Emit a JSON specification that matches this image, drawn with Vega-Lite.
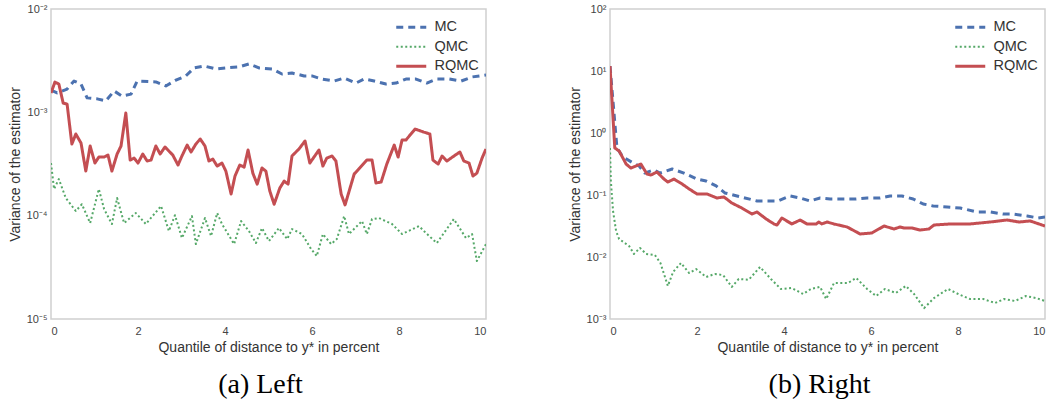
{
"$schema": "https://vega.github.io/schema/vega-lite/v6.json",
"background": "white",
"padding": {"left": 7, "top": 2, "right": 2, "bottom": 5},
"spacing": 80,
"config": {
  "font": "Liberation Sans",
  "view": {"stroke": "#d0d0d0", "strokeWidth": 1.5},
  "axis": {"domain": false, "ticks": false, "grid": false, "labelFont": "Liberation Sans", "labelFontSize": 11, "labelColor": "#444444", "titleFont": "Liberation Sans", "titleFontSize": 14, "titleFontWeight": "normal", "titleColor": "#333333"},
  "legend": {"orient": "none", "legendX": 353, "legendY": 11, "title": null, "labelFont": "Liberation Sans", "labelFontSize": 14.5, "labelColor": "#333333", "symbolType": "M-3,0H3", "symbolSize": 100, "labelOffset": 16, "rowPadding": 4.5},
  "title": {"font": "Liberation Serif", "fontSize": 28, "fontWeight": "normal", "color": "#000000", "orient": "bottom", "offset": 17, "dx": -8}
},
"datasets": {
  "left": [
    {"x":0,"v":1.64e-3,"s":"MC"},{"x":0.14,"v":1.54e-3,"s":"MC"},{"x":0.37,"v":1.68e-3,"s":"MC"},{"x":0.53,"v":2.01e-3,"s":"MC"},{"x":0.69,"v":1.88e-3,"s":"MC"},{"x":0.83,"v":1.38e-3,"s":"MC"},{"x":1.06,"v":1.35e-3,"s":"MC"},{"x":1.26,"v":1.29e-3,"s":"MC"},{"x":1.45,"v":1.61e-3,"s":"MC"},{"x":1.63,"v":1.44e-3,"s":"MC"},{"x":1.84,"v":1.50e-3,"s":"MC"},{"x":1.98,"v":2.01e-3,"s":"MC"},{"x":2.41,"v":1.97e-3,"s":"MC"},{"x":2.64,"v":1.80e-3,"s":"MC"},{"x":2.87,"v":2.05e-3,"s":"MC"},{"x":3.10,"v":2.25e-3,"s":"MC"},{"x":3.29,"v":2.69e-3,"s":"MC"},{"x":3.52,"v":2.81e-3,"s":"MC"},{"x":3.79,"v":2.63e-3,"s":"MC"},{"x":4.02,"v":2.69e-3,"s":"MC"},{"x":4.32,"v":2.75e-3,"s":"MC"},{"x":4.55,"v":2.94e-3,"s":"MC"},{"x":4.78,"v":2.69e-3,"s":"MC"},{"x":5.08,"v":2.63e-3,"s":"MC"},{"x":5.31,"v":2.35e-3,"s":"MC"},{"x":5.54,"v":2.40e-3,"s":"MC"},{"x":5.82,"v":2.25e-3,"s":"MC"},{"x":6.00,"v":2.25e-3,"s":"MC"},{"x":6.23,"v":2.10e-3,"s":"MC"},{"x":6.51,"v":2.01e-3,"s":"MC"},{"x":6.74,"v":2.15e-3,"s":"MC"},{"x":7.01,"v":1.92e-3,"s":"MC"},{"x":7.20,"v":2.10e-3,"s":"MC"},{"x":7.43,"v":2.01e-3,"s":"MC"},{"x":7.70,"v":1.88e-3,"s":"MC"},{"x":7.93,"v":1.92e-3,"s":"MC"},{"x":8.16,"v":2.10e-3,"s":"MC"},{"x":8.39,"v":2.10e-3,"s":"MC"},{"x":8.64,"v":1.92e-3,"s":"MC"},{"x":8.87,"v":2.10e-3,"s":"MC"},{"x":9.15,"v":2.10e-3,"s":"MC"},{"x":9.43,"v":2.01e-3,"s":"MC"},{"x":9.68,"v":2.20e-3,"s":"MC"},{"x":10,"v":2.30e-3,"s":"MC"},

    {"x":0,"v":3.23e-4,"s":"QMC"},{"x":0.07,"v":1.81e-4,"s":"QMC"},{"x":0.18,"v":2.26e-4,"s":"QMC"},{"x":0.34,"v":1.48e-4,"s":"QMC"},{"x":0.57,"v":1.11e-4,"s":"QMC"},{"x":0.71,"v":1.29e-4,"s":"QMC"},{"x":0.90,"v":8.48e-5,"s":"QMC"},{"x":1.10,"v":1.81e-4,"s":"QMC"},{"x":1.22,"v":1.16e-4,"s":"QMC"},{"x":1.40,"v":8.30e-5,"s":"QMC"},{"x":1.52,"v":1.48e-4,"s":"QMC"},{"x":1.68,"v":8.48e-5,"s":"QMC"},{"x":1.95,"v":1.06e-4,"s":"QMC"},{"x":2.18,"v":8.30e-5,"s":"QMC"},{"x":2.53,"v":1.24e-4,"s":"QMC"},{"x":2.71,"v":7.10e-5,"s":"QMC"},{"x":2.85,"v":1.01e-4,"s":"QMC"},{"x":3.01,"v":6.07e-5,"s":"QMC"},{"x":3.24,"v":9.91e-5,"s":"QMC"},{"x":3.33,"v":5.31e-5,"s":"QMC"},{"x":3.54,"v":9.48e-5,"s":"QMC"},{"x":3.68,"v":6.35e-5,"s":"QMC"},{"x":3.82,"v":1.06e-4,"s":"QMC"},{"x":3.93,"v":8.30e-5,"s":"QMC"},{"x":4.21,"v":5.31e-5,"s":"QMC"},{"x":4.37,"v":8.87e-5,"s":"QMC"},{"x":4.55,"v":7.10e-5,"s":"QMC"},{"x":4.71,"v":5.43e-5,"s":"QMC"},{"x":4.85,"v":7.59e-5,"s":"QMC"},{"x":5.01,"v":5.68e-5,"s":"QMC"},{"x":5.24,"v":7.59e-5,"s":"QMC"},{"x":5.43,"v":5.93e-5,"s":"QMC"},{"x":5.54,"v":7.42e-5,"s":"QMC"},{"x":5.77,"v":6.64e-5,"s":"QMC"},{"x":5.98,"v":4.75e-5,"s":"QMC"},{"x":6.11,"v":4.06e-5,"s":"QMC"},{"x":6.25,"v":6.64e-5,"s":"QMC"},{"x":6.44,"v":5.31e-5,"s":"QMC"},{"x":6.57,"v":5.93e-5,"s":"QMC"},{"x":6.74,"v":9.91e-5,"s":"QMC"},{"x":6.85,"v":6.64e-5,"s":"QMC"},{"x":7.15,"v":8.87e-5,"s":"QMC"},{"x":7.26,"v":6.64e-5,"s":"QMC"},{"x":7.38,"v":9.27e-5,"s":"QMC"},{"x":7.54,"v":9.48e-5,"s":"QMC"},{"x":7.84,"v":8.30e-5,"s":"QMC"},{"x":8.07,"v":6.64e-5,"s":"QMC"},{"x":8.46,"v":7.93e-5,"s":"QMC"},{"x":8.62,"v":6.79e-5,"s":"QMC"},{"x":8.87,"v":5.43e-5,"s":"QMC"},{"x":9.26,"v":9.27e-5,"s":"QMC"},{"x":9.54,"v":6.07e-5,"s":"QMC"},{"x":9.68,"v":6.64e-5,"s":"QMC"},{"x":9.79,"v":3.64e-5,"s":"QMC"},{"x":10,"v":5.31e-5,"s":"QMC"},

    {"x":0,"v":1.54e-3,"s":"RQMC"},{"x":0.09,"v":1.96e-3,"s":"RQMC"},{"x":0.18,"v":1.88e-3,"s":"RQMC"},{"x":0.28,"v":1.23e-3,"s":"RQMC"},{"x":0.37,"v":1.20e-3,"s":"RQMC"},{"x":0.48,"v":4.93e-4,"s":"RQMC"},{"x":0.57,"v":6.17e-4,"s":"RQMC"},{"x":0.69,"v":5.05e-4,"s":"RQMC"},{"x":0.80,"v":2.70e-4,"s":"RQMC"},{"x":0.90,"v":4.72e-4,"s":"RQMC"},{"x":1.01,"v":3.23e-4,"s":"RQMC"},{"x":1.10,"v":3.69e-4,"s":"RQMC"},{"x":1.22,"v":3.69e-4,"s":"RQMC"},{"x":1.31,"v":3.86e-4,"s":"RQMC"},{"x":1.40,"v":2.70e-4,"s":"RQMC"},{"x":1.52,"v":3.95e-4,"s":"RQMC"},{"x":1.61,"v":4.72e-4,"s":"RQMC"},{"x":1.72,"v":9.84e-4,"s":"RQMC"},{"x":1.82,"v":3.45e-4,"s":"RQMC"},{"x":1.91,"v":3.61e-4,"s":"RQMC"},{"x":2.00,"v":3.23e-4,"s":"RQMC"},{"x":2.11,"v":3.95e-4,"s":"RQMC"},{"x":2.21,"v":3.38e-4,"s":"RQMC"},{"x":2.30,"v":3.45e-4,"s":"RQMC"},{"x":2.41,"v":4.72e-4,"s":"RQMC"},{"x":2.51,"v":3.95e-4,"s":"RQMC"},{"x":2.62,"v":4.62e-4,"s":"RQMC"},{"x":2.71,"v":4.22e-4,"s":"RQMC"},{"x":2.80,"v":3.86e-4,"s":"RQMC"},{"x":2.92,"v":3.09e-4,"s":"RQMC"},{"x":3.01,"v":3.78e-4,"s":"RQMC"},{"x":3.13,"v":4.82e-4,"s":"RQMC"},{"x":3.22,"v":4.13e-4,"s":"RQMC"},{"x":3.33,"v":4.93e-4,"s":"RQMC"},{"x":3.43,"v":5.52e-4,"s":"RQMC"},{"x":3.54,"v":4.72e-4,"s":"RQMC"},{"x":3.63,"v":3.38e-4,"s":"RQMC"},{"x":3.72,"v":3.53e-4,"s":"RQMC"},{"x":3.82,"v":3.02e-4,"s":"RQMC"},{"x":3.93,"v":3.23e-4,"s":"RQMC"},{"x":4.02,"v":2.70e-4,"s":"RQMC"},{"x":4.14,"v":1.62e-4,"s":"RQMC"},{"x":4.23,"v":2.42e-4,"s":"RQMC"},{"x":4.34,"v":3.09e-4,"s":"RQMC"},{"x":4.44,"v":2.95e-4,"s":"RQMC"},{"x":4.53,"v":4.32e-4,"s":"RQMC"},{"x":4.64,"v":2.58e-4,"s":"RQMC"},{"x":4.74,"v":2.02e-4,"s":"RQMC"},{"x":4.85,"v":2.89e-4,"s":"RQMC"},{"x":4.94,"v":2.70e-4,"s":"RQMC"},{"x":5.03,"v":1.73e-4,"s":"RQMC"},{"x":5.13,"v":1.29e-4,"s":"RQMC"},{"x":5.26,"v":1.85e-4,"s":"RQMC"},{"x":5.36,"v":2.16e-4,"s":"RQMC"},{"x":5.45,"v":2.02e-4,"s":"RQMC"},{"x":5.54,"v":3.78e-4,"s":"RQMC"},{"x":5.70,"v":4.42e-4,"s":"RQMC"},{"x":5.84,"v":5.28e-4,"s":"RQMC"},{"x":5.95,"v":3.23e-4,"s":"RQMC"},{"x":6.16,"v":4.32e-4,"s":"RQMC"},{"x":6.25,"v":3.02e-4,"s":"RQMC"},{"x":6.34,"v":3.61e-4,"s":"RQMC"},{"x":6.46,"v":3.78e-4,"s":"RQMC"},{"x":6.55,"v":3.38e-4,"s":"RQMC"},{"x":6.67,"v":1.62e-4,"s":"RQMC"},{"x":6.76,"v":1.27e-4,"s":"RQMC"},{"x":6.97,"v":2.53e-4,"s":"RQMC"},{"x":7.26,"v":3.45e-4,"s":"RQMC"},{"x":7.38,"v":3.45e-4,"s":"RQMC"},{"x":7.47,"v":2.07e-4,"s":"RQMC"},{"x":7.59,"v":2.12e-4,"s":"RQMC"},{"x":7.72,"v":3.16e-4,"s":"RQMC"},{"x":7.89,"v":4.82e-4,"s":"RQMC"},{"x":7.98,"v":3.69e-4,"s":"RQMC"},{"x":8.07,"v":5.40e-4,"s":"RQMC"},{"x":8.16,"v":5.40e-4,"s":"RQMC"},{"x":8.37,"v":6.89e-4,"s":"RQMC"},{"x":8.57,"v":6.44e-4,"s":"RQMC"},{"x":8.71,"v":6.17e-4,"s":"RQMC"},{"x":8.78,"v":3.45e-4,"s":"RQMC"},{"x":8.90,"v":3.16e-4,"s":"RQMC"},{"x":8.99,"v":3.78e-4,"s":"RQMC"},{"x":9.10,"v":3.38e-4,"s":"RQMC"},{"x":9.33,"v":3.95e-4,"s":"RQMC"},{"x":9.40,"v":4.13e-4,"s":"RQMC"},{"x":9.49,"v":3.38e-4,"s":"RQMC"},{"x":9.61,"v":3.23e-4,"s":"RQMC"},{"x":9.70,"v":2.42e-4,"s":"RQMC"},{"x":9.79,"v":2.58e-4,"s":"RQMC"},{"x":9.91,"v":3.61e-4,"s":"RQMC"},{"x":10,"v":4.42e-4,"s":"RQMC"}
  ],
  "right": [
    {"x":0,"v":12.0,"s":"MC"},{"x":0.16,"v":0.573,"s":"MC"},{"x":0.28,"v":0.426,"s":"MC"},{"x":0.34,"v":0.395,"s":"MC"},{"x":0.57,"v":0.316,"s":"MC"},{"x":0.67,"v":0.294,"s":"MC"},{"x":0.80,"v":0.226,"s":"MC"},{"x":1.01,"v":0.254,"s":"MC"},{"x":1.15,"v":0.226,"s":"MC"},{"x":1.43,"v":0.263,"s":"MC"},{"x":1.70,"v":0.226,"s":"MC"},{"x":2.00,"v":0.181,"s":"MC"},{"x":2.21,"v":0.168,"s":"MC"},{"x":2.44,"v":0.140,"s":"MC"},{"x":2.64,"v":0.108,"s":"MC"},{"x":2.92,"v":0.0964,"s":"MC"},{"x":3.38,"v":0.0800,"s":"MC"},{"x":3.86,"v":0.0800,"s":"MC"},{"x":4.14,"v":0.0964,"s":"MC"},{"x":4.37,"v":0.0895,"s":"MC"},{"x":4.60,"v":0.0800,"s":"MC"},{"x":4.83,"v":0.0895,"s":"MC"},{"x":5.06,"v":0.0861,"s":"MC"},{"x":5.36,"v":0.0861,"s":"MC"},{"x":5.66,"v":0.0861,"s":"MC"},{"x":5.91,"v":0.0895,"s":"MC"},{"x":6.21,"v":0.0895,"s":"MC"},{"x":6.44,"v":0.0964,"s":"MC"},{"x":6.71,"v":0.0964,"s":"MC"},{"x":6.97,"v":0.0861,"s":"MC"},{"x":7.20,"v":0.0716,"s":"MC"},{"x":7.43,"v":0.0665,"s":"MC"},{"x":7.75,"v":0.0640,"s":"MC"},{"x":8.05,"v":0.0617,"s":"MC"},{"x":8.44,"v":0.0532,"s":"MC"},{"x":8.74,"v":0.0532,"s":"MC"},{"x":9.03,"v":0.0494,"s":"MC"},{"x":9.26,"v":0.0494,"s":"MC"},{"x":9.59,"v":0.0459,"s":"MC"},{"x":9.84,"v":0.0426,"s":"MC"},{"x":10,"v":0.0440,"s":"MC"},

    {"x":0,"v":0.573,"s":"QMC"},{"x":0.02,"v":0.168,"s":"QMC"},{"x":0.07,"v":0.0552,"s":"QMC"},{"x":0.14,"v":0.0262,"s":"QMC"},{"x":0.21,"v":0.0195,"s":"QMC"},{"x":0.44,"v":0.0150,"s":"QMC"},{"x":0.55,"v":0.0112,"s":"QMC"},{"x":0.69,"v":0.0140,"s":"QMC"},{"x":0.83,"v":0.0112,"s":"QMC"},{"x":1.03,"v":0.0108,"s":"QMC"},{"x":1.16,"v":0.0080,"s":"QMC"},{"x":1.33,"v":0.00341,"s":"QMC"},{"x":1.45,"v":0.00573,"s":"QMC"},{"x":1.63,"v":0.0080,"s":"QMC"},{"x":1.82,"v":0.00552,"s":"QMC"},{"x":1.98,"v":0.00640,"s":"QMC"},{"x":2.21,"v":0.00476,"s":"QMC"},{"x":2.41,"v":0.00532,"s":"QMC"},{"x":2.60,"v":0.0051,"s":"QMC"},{"x":2.80,"v":0.0033,"s":"QMC"},{"x":2.96,"v":0.00442,"s":"QMC"},{"x":3.19,"v":0.0043,"s":"QMC"},{"x":3.45,"v":0.0069,"s":"QMC"},{"x":3.70,"v":0.00442,"s":"QMC"},{"x":3.93,"v":0.00305,"s":"QMC"},{"x":4.18,"v":0.00316,"s":"QMC"},{"x":4.44,"v":0.00253,"s":"QMC"},{"x":4.62,"v":0.00305,"s":"QMC"},{"x":4.83,"v":0.0033,"s":"QMC"},{"x":4.97,"v":0.00210,"s":"QMC"},{"x":5.15,"v":0.00381,"s":"QMC"},{"x":5.47,"v":0.00381,"s":"QMC"},{"x":5.66,"v":0.00459,"s":"QMC"},{"x":5.91,"v":0.00305,"s":"QMC"},{"x":6.12,"v":0.00235,"s":"QMC"},{"x":6.32,"v":0.00305,"s":"QMC"},{"x":6.57,"v":0.00263,"s":"QMC"},{"x":6.80,"v":0.00341,"s":"QMC"},{"x":6.99,"v":0.00253,"s":"QMC"},{"x":7.22,"v":0.0015,"s":"QMC"},{"x":7.45,"v":0.00218,"s":"QMC"},{"x":7.77,"v":0.00305,"s":"QMC"},{"x":8.05,"v":0.00244,"s":"QMC"},{"x":8.28,"v":0.00210,"s":"QMC"},{"x":8.58,"v":0.00210,"s":"QMC"},{"x":8.85,"v":0.00181,"s":"QMC"},{"x":9.06,"v":0.00210,"s":"QMC"},{"x":9.31,"v":0.00195,"s":"QMC"},{"x":9.56,"v":0.00235,"s":"QMC"},{"x":9.79,"v":0.00218,"s":"QMC"},{"x":10,"v":0.00195,"s":"QMC"},

    {"x":0,"v":12.0,"s":"RQMC"},{"x":0.11,"v":0.573,"s":"RQMC"},{"x":0.21,"v":0.513,"s":"RQMC"},{"x":0.37,"v":0.316,"s":"RQMC"},{"x":0.48,"v":0.272,"s":"RQMC"},{"x":0.60,"v":0.294,"s":"RQMC"},{"x":0.71,"v":0.316,"s":"RQMC"},{"x":0.85,"v":0.218,"s":"RQMC"},{"x":0.94,"v":0.210,"s":"RQMC"},{"x":1.08,"v":0.235,"s":"RQMC"},{"x":1.24,"v":0.181,"s":"RQMC"},{"x":1.33,"v":0.162,"s":"RQMC"},{"x":1.47,"v":0.181,"s":"RQMC"},{"x":1.66,"v":0.150,"s":"RQMC"},{"x":1.82,"v":0.125,"s":"RQMC"},{"x":2.00,"v":0.104,"s":"RQMC"},{"x":2.23,"v":0.104,"s":"RQMC"},{"x":2.46,"v":0.0895,"s":"RQMC"},{"x":2.62,"v":0.0929,"s":"RQMC"},{"x":2.80,"v":0.0743,"s":"RQMC"},{"x":3.03,"v":0.0617,"s":"RQMC"},{"x":3.26,"v":0.0494,"s":"RQMC"},{"x":3.38,"v":0.0532,"s":"RQMC"},{"x":3.59,"v":0.0410,"s":"RQMC"},{"x":3.77,"v":0.0341,"s":"RQMC"},{"x":3.84,"v":0.0328,"s":"RQMC"},{"x":3.95,"v":0.0426,"s":"RQMC"},{"x":4.18,"v":0.0341,"s":"RQMC"},{"x":4.37,"v":0.0395,"s":"RQMC"},{"x":4.53,"v":0.0341,"s":"RQMC"},{"x":4.74,"v":0.0341,"s":"RQMC"},{"x":4.80,"v":0.0367,"s":"RQMC"},{"x":4.87,"v":0.0341,"s":"RQMC"},{"x":4.99,"v":0.0367,"s":"RQMC"},{"x":5.15,"v":0.0341,"s":"RQMC"},{"x":5.45,"v":0.0305,"s":"RQMC"},{"x":5.75,"v":0.0235,"s":"RQMC"},{"x":6.02,"v":0.0244,"s":"RQMC"},{"x":6.30,"v":0.0316,"s":"RQMC"},{"x":6.53,"v":0.0283,"s":"RQMC"},{"x":6.67,"v":0.0305,"s":"RQMC"},{"x":6.76,"v":0.0294,"s":"RQMC"},{"x":6.94,"v":0.0294,"s":"RQMC"},{"x":7.13,"v":0.0272,"s":"RQMC"},{"x":7.33,"v":0.0283,"s":"RQMC"},{"x":7.45,"v":0.0328,"s":"RQMC"},{"x":7.82,"v":0.0341,"s":"RQMC"},{"x":8.28,"v":0.0341,"s":"RQMC"},{"x":8.74,"v":0.0367,"s":"RQMC"},{"x":9.13,"v":0.0395,"s":"RQMC"},{"x":9.40,"v":0.0367,"s":"RQMC"},{"x":9.66,"v":0.0381,"s":"RQMC"},{"x":10,"v":0.0316,"s":"RQMC"}
  ]
},
"hconcat": [
  {
    "title": {"text": "(a) Left"},
    "width": 435, "height": 310,
    "data": {"name": "left"},
    "mark": {"type": "line", "strokeCap": "butt", "strokeJoin": "round", "clip": true},
    "encoding": {
      "x": {"field": "x", "type": "quantitative", "scale": {"domain": [0, 10], "nice": false}, "axis": {"values": [0, 2, 4, 6, 8, 10], "format": "d", "title": "Quantile of distance to y* in percent", "labelPadding": 6, "titlePadding": 4}},
      "y": {"field": "v", "type": "quantitative", "scale": {"type": "log", "domain": [1e-5, 1e-2], "nice": false}, "axis": {"values": [1e-5, 1e-4, 1e-3, 1e-2], "labelPadding": 4, "titlePadding": 4, "title": "Variance of the estimator", "labelExpr": "'10' + (datum.value < 1 ? '⁻' : '') + substring('⁰¹²³⁴⁵⁶⁷⁸⁹', abs(round(log(datum.value)/LN10)), abs(round(log(datum.value)/LN10)) + 1)"}},
      "color": {"field": "s", "type": "ordinal", "scale": {"domain": ["MC", "QMC", "RQMC"], "range": ["#4C72B0", "#55A868", "#C44E52"]}},
      "strokeDash": {"field": "s", "type": "ordinal", "scale": {"domain": ["MC", "QMC", "RQMC"], "range": [[7, 5], [2, 2.5], [1, 0]]}},
      "strokeWidth": {"field": "s", "type": "ordinal", "scale": {"type": "ordinal", "domain": ["MC", "QMC", "RQMC"], "range": [3, 2, 3]}}
    }
  },
  {
    "title": {"text": "(b) Right"},
    "width": 435, "height": 310,
    "data": {"name": "right"},
    "mark": {"type": "line", "strokeCap": "butt", "strokeJoin": "round", "clip": true},
    "encoding": {
      "x": {"field": "x", "type": "quantitative", "scale": {"domain": [0, 10], "nice": false}, "axis": {"values": [0, 2, 4, 6, 8, 10], "format": "d", "title": "Quantile of distance to y* in percent", "labelPadding": 6, "titlePadding": 4}},
      "y": {"field": "v", "type": "quantitative", "scale": {"type": "log", "domain": [1e-3, 100], "nice": false}, "axis": {"values": [1e-3, 1e-2, 1e-1, 1, 10, 100], "labelPadding": 4, "titlePadding": 4, "title": "Variance of the estimator", "labelExpr": "'10' + (datum.value < 1 ? '⁻' : '') + substring('⁰¹²³⁴⁵⁶⁷⁸⁹', abs(round(log(datum.value)/LN10)), abs(round(log(datum.value)/LN10)) + 1)"}},
      "color": {"field": "s", "type": "ordinal", "scale": {"domain": ["MC", "QMC", "RQMC"], "range": ["#4C72B0", "#55A868", "#C44E52"]}},
      "strokeDash": {"field": "s", "type": "ordinal", "scale": {"domain": ["MC", "QMC", "RQMC"], "range": [[7, 5], [2, 2.5], [1, 0]]}},
      "strokeWidth": {"field": "s", "type": "ordinal", "scale": {"type": "ordinal", "domain": ["MC", "QMC", "RQMC"], "range": [3, 2, 3]}}
    }
  }
],
"resolve": {"scale": {"color": "independent", "strokeDash": "independent", "strokeWidth": "independent", "x": "independent", "y": "independent"}, "legend": {"color": "independent", "strokeDash": "independent", "strokeWidth": "independent"}}
}
